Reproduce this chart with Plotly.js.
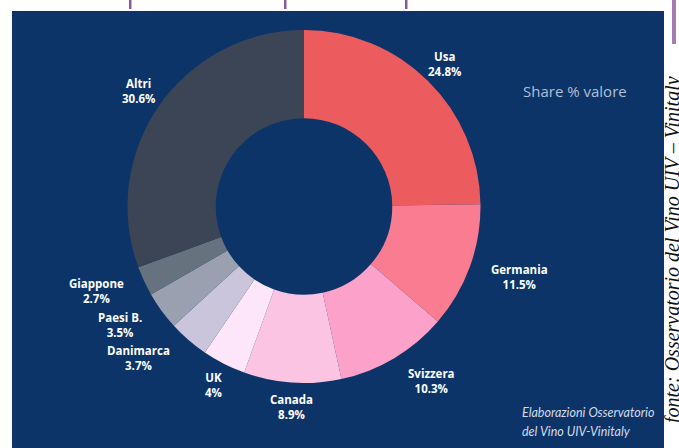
<!DOCTYPE html>
<html>
<head>
<meta charset="utf-8">
<script src="https://cdn.plot.ly/plotly-3.0.1.min.js"></script>
<style>html,body{margin:0;padding:0;background:#fff;}#chart{width:679px;height:448px;}</style>
</head>
<body>
<div id="chart"></div>
<script>
// ---- data ----
var countries = ["Usa", "Germania", "Svizzera", "Canada", "UK", "Danimarca", "Paesi B.", "Giappone", "Altri"];
var shares = [24.8, 11.5, 10.3, 8.9, 4, 3.7, 3.5, 2.7, 30.6];
var sliceColors = ["#ec5b5d", "#f97c91", "#fca1c9", "#fbc4e3", "#fde6fa", "#cbc5db", "#9aa0b0", "#66737f", "#3b4555"];
var chartNote = "Share % valore";
var creditLines = ["Elaborazioni Osservatorio", "del Vino UIV-Vinitaly"];
var sourceText = "fonte: Osservatorio del Vino UIV – Vinitaly";

// ---- layout style (pixels) ----
var W = 679, H = 448;
var cx = 304, cy = 206.5, R = 176.5;
var labelRadius = [200, 227, 216, 201, 200, 224, 219, 224, 202];
var labelAngleNudge = [0, -2, -5.5, -0.1, -0.1, 6.6, 3.4, 2.8, 0];

function px(x) { return x / W; }
function py(y) { return 1 - y / H; }

var total = shares.reduce(function (a, b) { return a + b; }, 0);
var annotations = [];
var cum = 0;
for (var i = 0; i < shares.length; i++) {
  var mid = (cum + shares[i] / 2) / total * 360 + labelAngleNudge[i];
  cum += shares[i];
  var a = mid * Math.PI / 180;
  var lx = cx + labelRadius[i] * Math.sin(a);
  var ly = cy - labelRadius[i] * Math.cos(a);
  annotations.push({
    x: px(lx), y: py(ly), xref: "paper", yref: "paper",
    xanchor: "center", yanchor: "middle", showarrow: false,
    text: "<b>" + countries[i] + "</b><br><b>" + shares[i] + "%</b>",
    font: { family: "Open Sans", size: 11.5, color: "#ffffff" }
  });
}
annotations.push({
  x: px(521), y: py(91), xref: "paper", yref: "paper", xanchor: "left", yanchor: "middle",
  showarrow: false, text: chartNote,
  font: { family: "Open Sans", size: 15, color: "#b3bfd5" }
});
annotations.push({
  x: px(520), y: py(412), xref: "paper", yref: "paper", xanchor: "left", yanchor: "middle",
  showarrow: false, text: "<i>" + creditLines[0] + "</i>",
  font: { family: "Lato", size: 12.5, color: "#d3dae8" }
});
annotations.push({
  x: px(520), y: py(431), xref: "paper", yref: "paper", xanchor: "left", yanchor: "middle",
  showarrow: false, text: "<i>" + creditLines[1] + "</i>",
  font: { family: "Lato", size: 12.5, color: "#d3dae8" }
});
annotations.push({
  x: px(672), y: py(250), xref: "paper", yref: "paper", xanchor: "center", yanchor: "middle",
  showarrow: false, textangle: -90, text: "<i>" + sourceText + "</i>",
  font: { family: "Liberation Serif", size: 20, color: "#111111" }
});

var shapes = [
  { type: "rect", xref: "paper", yref: "paper", x0: px(12), x1: px(664), y0: py(448), y1: py(11),
    fillcolor: "#0c3469", line: { width: 0 }, layer: "below" },
  { type: "rect", xref: "paper", yref: "paper", x0: px(672), x1: px(676), y0: py(44), y1: py(0),
    fillcolor: "#a57cb0", line: { width: 0 } }
];
// clipped descenders of the cut-off heading above the panel
[130, 285, 406].forEach(function (x) {
  shapes.push({ type: "rect", xref: "paper", yref: "paper", x0: px(x - 1), x1: px(x + 1.5), y0: py(9), y1: py(0),
    fillcolor: "#8a5a9c", line: { width: 0 } });
});

var trace = {
  type: "pie",
  labels: countries,
  values: shares,
  sort: false,
  direction: "clockwise",
  rotation: 0,
  hole: 0.5,
  textinfo: "none",
  hoverinfo: "label+value",
  marker: { colors: sliceColors, line: { width: 0 } },
  domain: { x: [px(cx - R), px(cx + R)], y: [py(cy + R), py(cy - R)] },
  showlegend: false
};

var layout = {
  width: W, height: H,
  margin: { l: 0, r: 0, t: 0, b: 0 },
  paper_bgcolor: "#ffffff",
  plot_bgcolor: "rgba(0,0,0,0)",
  showlegend: false,
  shapes: shapes,
  annotations: annotations
};

Plotly.newPlot("chart", [trace], layout, { staticPlot: true, displayModeBar: false });
</script>
</body>
</html>
